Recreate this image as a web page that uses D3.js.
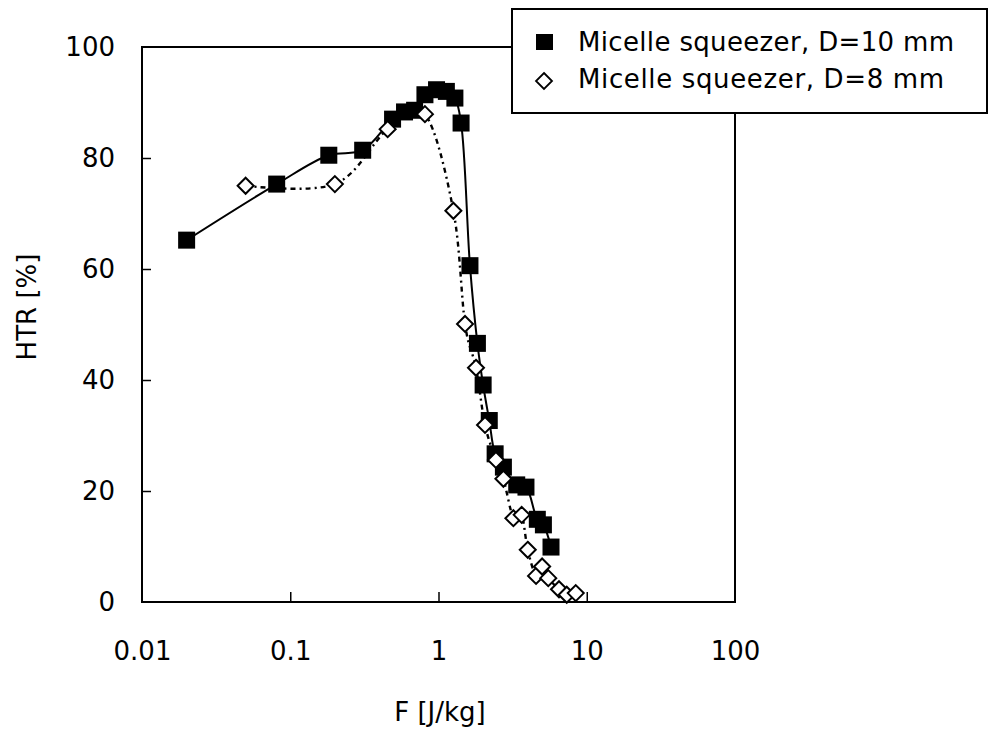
<!DOCTYPE html>
<html>
<head>
<meta charset="utf-8">
<script src="https://cdn.jsdelivr.net/npm/d3@7"></script>
<style>
  html, body { margin: 0; padding: 0; background: #fff; }
  svg { display: block; font-family: "DejaVu Sans", sans-serif; }
</style>
</head>
<body>
<svg id="chart" width="993" height="735"></svg>
<script>
/* HTR vs specific energy F, micelle squeezer, two nozzle diameters */
var xTicks = [0.01, 0.1, 1, 10, 100];
var xTickLabels = ['0.01', '0.1', '1', '10', '100'];
var yTicks = [0, 20, 40, 60, 80, 100];

// D = 10 mm (filled squares)
var f10 = [0.02, 0.081, 0.182, 0.308, 0.49, 0.59, 0.69, 0.81, 0.97, 1.13, 1.29, 1.42,
           1.63, 1.83, 2.0, 2.2, 2.41, 2.74, 3.37, 3.89, 4.64, 5.1, 5.74];
var htr10 = [65.2, 75.3, 80.5, 81.4, 87.0, 88.3, 88.6, 91.4, 92.3, 92.0, 90.8, 86.3,
             60.6, 46.6, 39.1, 32.7, 26.7, 24.3, 21.1, 20.7, 14.9, 13.9, 9.9];

// D = 8 mm (open diamonds)
var f8 = [0.05, 0.2, 0.454, 0.81, 1.26, 1.51, 1.79, 2.06, 2.44, 2.74, 3.2, 3.64,
          4.0, 4.55, 5.0, 5.5, 6.5, 7.33, 8.43];
var htr8 = [75.0, 75.3, 85.2, 87.9, 70.5, 50.1, 42.2, 31.9, 25.6, 22.2, 15.1, 15.7,
            9.4, 4.7, 6.4, 4.3, 2.3, 1.3, 1.6];

var legendLabels = ['Micelle squeezer, D=10 mm', 'Micelle squeezer, D=8 mm'];
var legendWidths = [376, 366];

(function () {
  'use strict';
  var svg = d3.select('#chart');
  var m = { left: 142, right: 735, top: 47, bottom: 602 };

  var xs = d3.scaleLog().domain([0.01, 100]).range([m.left, m.right]);
  var ys = d3.scaleLinear().domain([0, 100]).range([m.bottom, m.top]);

  var s10 = f10.map(function (f, i) { return [f, htr10[i]]; });
  var s8 = f8.map(function (f, i) { return [f, htr8[i]]; });

  /* frame */
  svg.append('rect')
    .attr('x', m.left).attr('y', m.top)
    .attr('width', m.right - m.left).attr('height', m.bottom - m.top)
    .attr('fill', 'none').attr('stroke', '#000').attr('stroke-width', 2);

  /* x axis: inward ticks, labels below */
  var xAxis = svg.append('g').attr('transform', 'translate(0,' + m.bottom + ')')
    .call(d3.axisBottom(xs).tickValues(xTicks)
      .tickFormat(function (d, i) { return xTickLabels[i]; })
      .tickSizeInner(-10).tickSizeOuter(0).tickPadding(40));
  xAxis.select('.domain').remove();
  xAxis.selectAll('.tick line').attr('stroke', '#000').attr('stroke-width', 1.5)
    .filter(function (d) { return d === 0.01 || d === 100; }).remove();
  xAxis.selectAll('.tick text').attr('fill', '#000')
    .style('font-size', '26px').style('font-family', '"DejaVu Sans", sans-serif');

  /* y axis */
  var yAxis = svg.append('g').attr('transform', 'translate(' + m.left + ',0)')
    .call(d3.axisLeft(ys).tickValues(yTicks)
      .tickSizeInner(-9).tickSizeOuter(0).tickPadding(27));
  yAxis.select('.domain').remove();
  yAxis.selectAll('.tick line').attr('stroke', '#000').attr('stroke-width', 1.5)
    .filter(function (d) { return d === 0 || d === 100; }).remove();
  yAxis.selectAll('.tick text').attr('fill', '#000')
    .style('font-size', '26px').style('font-family', '"DejaVu Sans", sans-serif');

  /* axis titles */
  svg.append('text')
    .attr('x', 440).attr('y', 721)
    .attr('text-anchor', 'middle')
    .style('font-size', '26px')
    .text('F [J/kg]');
  svg.append('text')
    .attr('transform', 'translate(36,307) rotate(-90)')
    .attr('text-anchor', 'middle')
    .style('font-size', '26px')
    .text('HTR [%]');

  /* lines (Excel-like smoothing) */
  var line10 = d3.line()
    .x(function (d) { return xs(d[0]); })
    .y(function (d) { return ys(d[1]); })
    .curve(d3.curveCatmullRom.alpha(0.5));
  var line8 = d3.line()
    .x(function (d) { return xs(d[0]); })
    .y(function (d) { return ys(d[1]); })
    .curve(d3.curveCatmullRom.alpha(0));

  svg.append('path').datum(s8)
    .attr('d', line8)
    .attr('fill', 'none').attr('stroke', '#000').attr('stroke-width', 2.4)
    .attr('stroke-dasharray', '5,4,2,4');

  svg.append('path').datum(s10)
    .attr('d', line10)
    .attr('fill', 'none').attr('stroke', '#000').attr('stroke-width', 2);

  /* markers */
  var sq = 17;
  svg.append('g').selectAll('rect').data(s10).enter().append('rect')
    .attr('x', function (d) { return xs(d[0]) - sq / 2; })
    .attr('y', function (d) { return ys(d[1]) - sq / 2; })
    .attr('width', sq).attr('height', sq)
    .attr('fill', '#000');

  var dm = 8;
  function diamond(cx, cy, r) {
    return 'M' + cx + ',' + (cy - r) + 'L' + (cx + r) + ',' + cy +
      'L' + cx + ',' + (cy + r) + 'L' + (cx - r) + ',' + cy + 'Z';
  }
  svg.append('g').selectAll('path').data(s8).enter().append('path')
    .attr('d', function (d) { return diamond(xs(d[0]), ys(d[1]), dm); })
    .attr('fill', '#fff').attr('stroke', '#000').attr('stroke-width', 2);

  /* legend */
  var lg = svg.append('g');
  lg.append('rect')
    .attr('x', 512).attr('y', 9).attr('width', 475).attr('height', 104)
    .attr('fill', '#fff').attr('stroke', '#000').attr('stroke-width', 2);
  lg.append('rect')
    .attr('x', 536).attr('y', 34).attr('width', 17).attr('height', 16)
    .attr('fill', '#000');
  lg.append('path')
    .attr('d', diamond(544, 81, 8))
    .attr('fill', '#fff').attr('stroke', '#000').attr('stroke-width', 1.8);
  lg.selectAll('text.lab').data(legendLabels).enter().append('text')
    .attr('class', 'lab')
    .attr('x', 578)
    .attr('y', function (d, i) { return 51 + i * 37; })
    .attr('textLength', function (d, i) { return legendWidths[i]; })
    .style('font-size', '26px')
    .text(function (d) { return d; });
})();
</script>
</body>
</html>
